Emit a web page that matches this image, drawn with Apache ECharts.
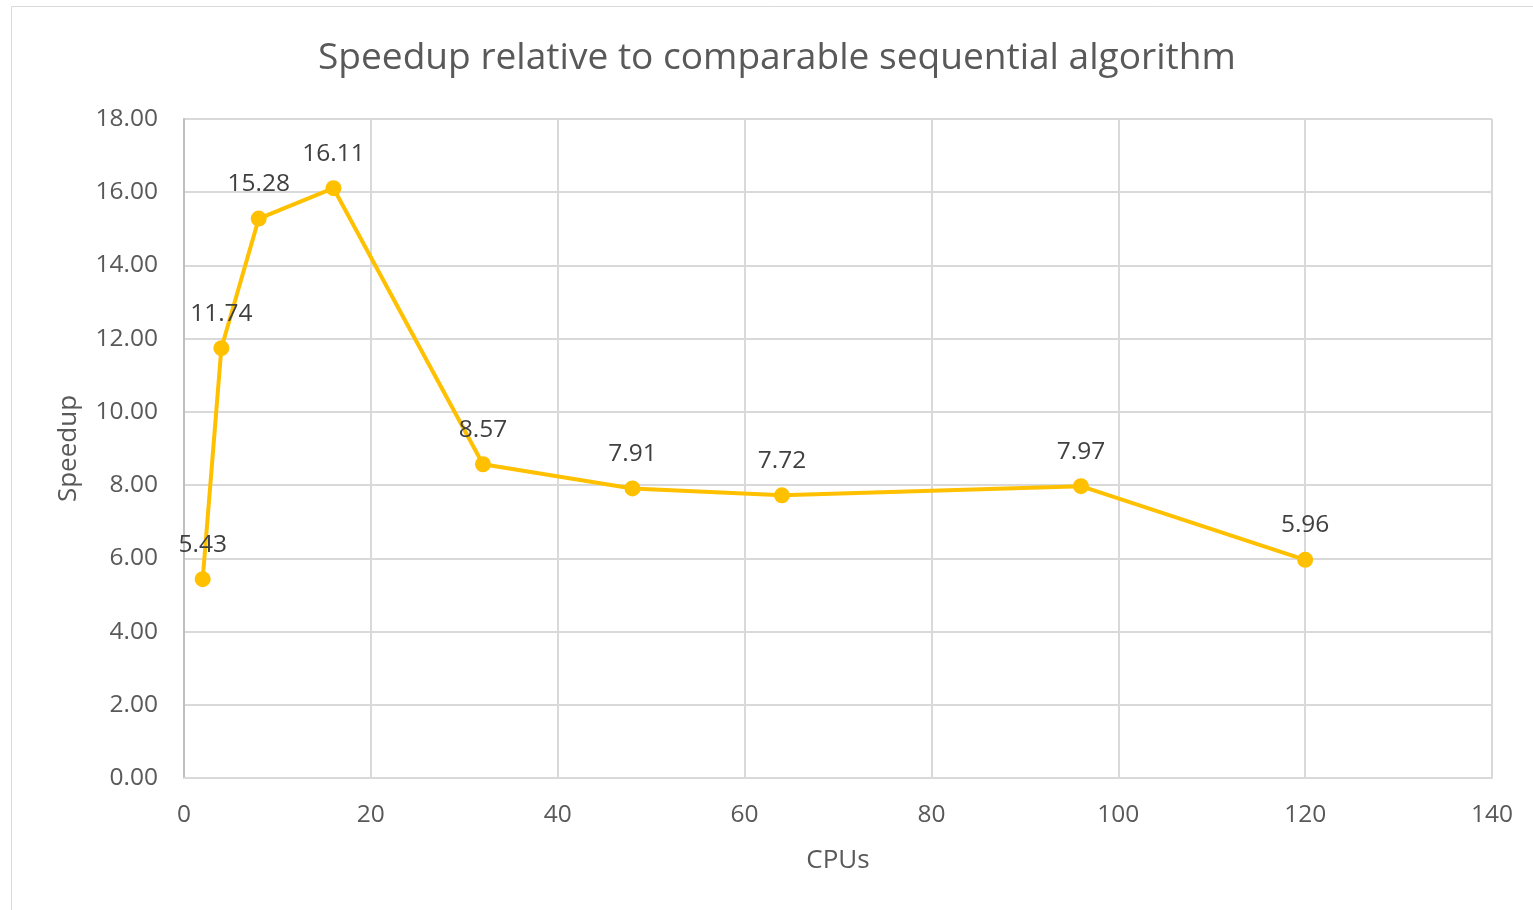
<!DOCTYPE html>
<html><head><meta charset="utf-8">
<script src="https://cdn.jsdelivr.net/npm/echarts@6/dist/echarts.min.js"></script>
<style>html,body{margin:0;padding:0;background:#fff}#c{width:1533px;height:910px}</style>
</head><body><div id="c"></div>
<script>
const title = 'Speedup relative to comparable sequential algorithm';
const cpus = [2, 4, 8, 16, 32, 48, 64, 96, 120];
const speedup = [5.43, 11.74, 15.28, 16.11, 8.57, 7.91, 7.72, 7.97, 5.96];
const xName = 'CPUs';
const yName = 'Speedup';
const FONT = 'Open Sans';
const TXT = '#595959';
const chart = echarts.init(document.getElementById('c'));
chart.setOption({
  animation: false,
  textStyle: {fontFamily: FONT},
  graphic: [{type: 'rect', shape: {x: 11.5, y: 6.5, width: 1600, height: 1000}, style: {fill: 'none', stroke: '#d9d9d9', lineWidth: 1}, silent: true}],
  title: {text: title, left: 313, top: 35, textStyle: {fontFamily: FONT, fontSize: 37.1, fontWeight: 'normal', color: TXT}},
  grid: {left: 184, right: 41, top: 119, bottom: 132, containLabel: false},
  xAxis: {
    type: 'value', min: 0, max: 140, interval: 20,
    name: xName, nameLocation: 'middle', nameGap: 70,
    nameTextStyle: {fontFamily: FONT, fontSize: 26, color: TXT},
    axisLine: {show: true, lineStyle: {color: '#d9d9d9', width: 2}},
    axisTick: {show: false},
    axisLabel: {fontFamily: FONT, fontSize: 24.5, color: TXT, margin: 25},
    splitLine: {show: true, lineStyle: {color: '#d9d9d9', width: 2}}
  },
  yAxis: {
    type: 'value', min: 0, max: 18, interval: 2,
    name: yName, nameLocation: 'middle', nameGap: 102,
    nameTextStyle: {fontFamily: FONT, fontSize: 26, color: TXT},
    axisLine: {show: true, lineStyle: {color: '#bfbfbf', width: 2}},
    axisTick: {show: false},
    axisLabel: {fontFamily: FONT, fontSize: 24.5, color: TXT, margin: 26, formatter: v => v.toFixed(2)},
    splitLine: {show: true, lineStyle: {color: '#d9d9d9', width: 2}}
  },
  series: [{
    type: 'line',
    data: cpus.map((c, i) => [c, speedup[i]]),
    symbol: 'circle', symbolSize: 16,
    lineStyle: {color: '#FFC000', width: 4},
    itemStyle: {color: '#FFC000'},
    label: {show: true, position: 'top', distance: 14, fontFamily: FONT, fontSize: 24.5, color: '#404040', formatter: p => p.value[1].toFixed(2)},
    labelLayout: {hideOverlap: false}
  }]
});
</script></body></html>
